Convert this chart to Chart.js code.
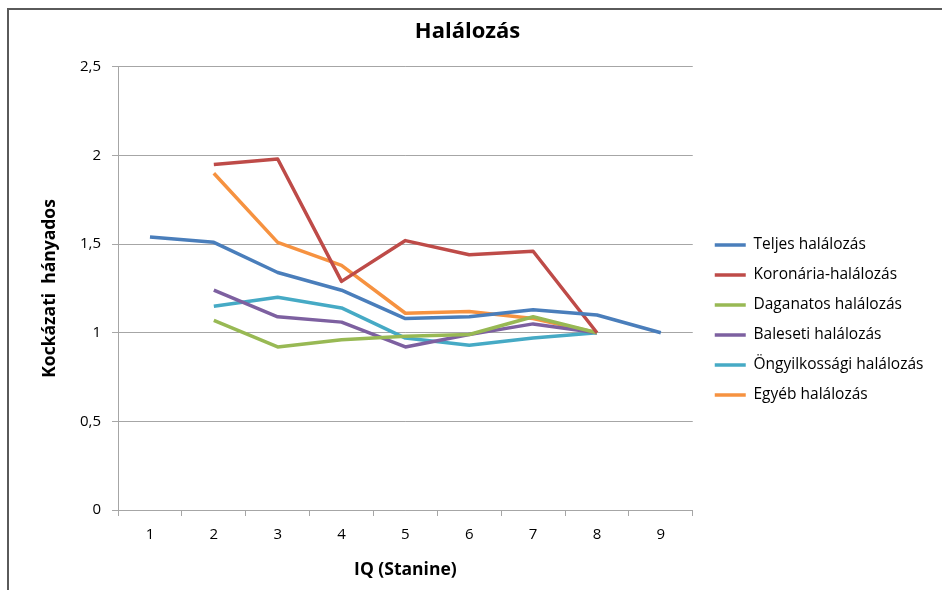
<!DOCTYPE html>
<html>
<head>
<meta charset="utf-8">
<script src="https://cdn.jsdelivr.net/npm/chart.js@4"></script>
<style>
html, body { margin: 0; padding: 0; background: #fff; }
#wrap { position: relative; width: 942px; height: 590px; }
#frame { position: absolute; left: 7px; top: 8px; right: 0; bottom: 0; border-top: 2px solid #5a5a5a; border-left: 2px solid #5a5a5a; pointer-events: none; }
</style>
</head>
<body>
<div id="wrap">
    <canvas id="chartHalalozas" width="942" height="590"></canvas>
    <div id="frame"></div>
</div>
<script>
const iqStanine = ['1', '2', '3', '4', '5', '6', '7', '8', '9'];

const teljes        = [1.54, 1.51, 1.34, 1.24, 1.08, 1.09, 1.13, 1.10, 1.00];
const koronaria     = [null, 1.95, 1.98, 1.29, 1.52, 1.44, 1.46, 1.00, null];
const daganatos     = [null, 1.07, 0.92, 0.96, 0.98, 0.99, 1.09, 1.00, null];
const baleseti      = [null, 1.24, 1.09, 1.06, 0.92, 0.99, 1.05, 1.00, null];
const ongyilkossagi = [null, 1.15, 1.20, 1.14, 0.97, 0.93, 0.97, 1.00, null];
const egyeb         = [null, 1.90, 1.51, 1.38, 1.11, 1.12, 1.08, 1.00, null];

const FONT = "'Open Sans', 'DejaVu Sans', sans-serif";
const szurke = '#a6a6a6';

function sorozat(label, data, szin) {
    return {
        label: label,
        data: data,
        borderColor: szin,
        backgroundColor: szin,
        borderWidth: 3.5,
        borderJoinStyle: 'round',
        pointRadius: 0,
        pointHoverRadius: 0,
        tension: 0,
        fill: false
    };
}

// a jelmagyarázatot a rajzterület mellé toljuk
const legendEltolas = {
    id: 'legendEltolas',
    afterLayout(chart) {
        const lg = chart.legend;
        if (!lg) return;
        const w = lg.right - lg.left;
        lg.left = chart.chartArea.right + 7.5;
        lg.right = lg.left + w;
        lg.top += 28;
        lg.bottom += 28;
    }
};

new Chart(document.getElementById('chartHalalozas'), {
    type: 'line',
    data: {
        labels: iqStanine,
        datasets: [
            sorozat('Teljes halálozás', teljes, '#4a7ebb'),
            sorozat('Koronária-halálozás', koronaria, '#be4b48'),
            sorozat('Daganatos halálozás', daganatos, '#98b954'),
            sorozat('Baleseti halálozás', baleseti, '#7d60a0'),
            sorozat('Öngyilkossági halálozás', ongyilkossagi, '#46aac5'),
            sorozat('Egyéb halálozás', egyeb, '#f69240')
        ]
    },
    options: {
        responsive: false,
        animation: false,
        devicePixelRatio: 1,
        layout: { padding: { left: 17, right: 24, top: 0, bottom: 6 } },
        plugins: {
            title: {
                display: true,
                text: 'Halálozás',
                color: '#000',
                font: { family: FONT, size: 22, weight: 'bold' },
                padding: { top: 18.5, bottom: 22 }
            },
            legend: {
                position: 'right',
                align: 'center',
                labels: {
                    usePointStyle: true,
                    pointStyle: 'line',
                    pointStyleWidth: 31,
                    padding: 14.5,
                    color: '#000',
                    font: { family: FONT, size: 15.5 }
                }
            },
            tooltip: { enabled: false }
        },
        scales: {
            x: {
                offset: true,
                grid: { display: true, drawOnChartArea: false, offset: true, tickLength: 6, color: szurke },
                border: { color: szurke, width: 1 },
                ticks: { color: '#000', padding: 9.5, font: { family: FONT, size: 15 } },
                title: {
                    display: true,
                    text: 'IQ (Stanine)',
                    color: '#000',
                    font: { family: FONT, size: 17.5, weight: 'bold' },
                    padding: { top: 6.5, bottom: 3.5 }
                }
            },
            y: {
                min: 0,
                max: 2.5,
                grid: { color: szurke, tickLength: 6 },
                border: { color: szurke, width: 1 },
                ticks: {
                    stepSize: 0.5,
                    color: '#000',
                    padding: 11,
                    font: { family: FONT, size: 15 },
                    callback: v => String(v).replace('.', ',')
                },
                title: {
                    display: true,
                    text: 'Kockázati  hányados',
                    color: '#000',
                    font: { family: FONT, size: 17.5, weight: 'bold' },
                    padding: { top: 22.5, bottom: 8.5 }
                }
            }
        }
    },
    plugins: [legendEltolas]
});
</script>
</body>
</html>
